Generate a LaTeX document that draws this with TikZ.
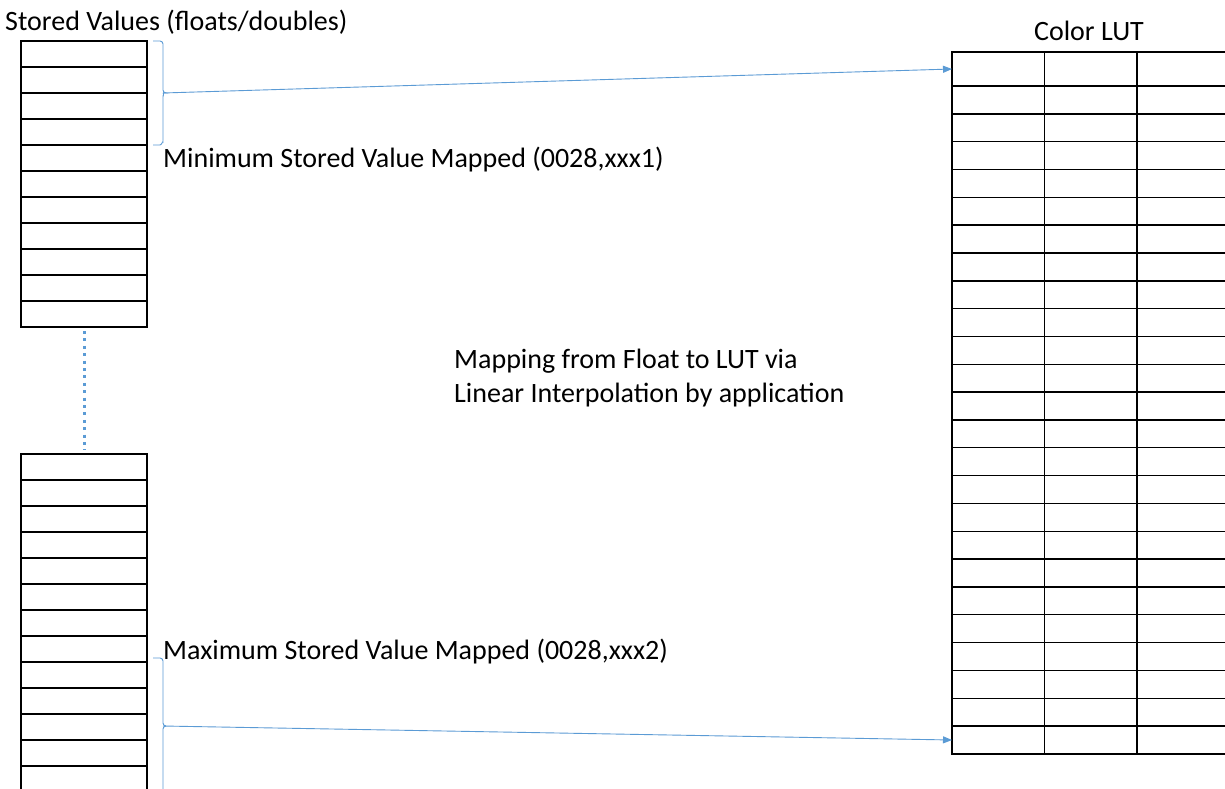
\documentclass[tikz,border=0pt]{standalone}
\usepackage{fontspec}
\setmainfont{Carlito}
\usetikzlibrary{arrows.meta,calc}
\definecolor{linkblue}{HTML}{5B9BD5}
\begin{document}
\begin{tikzpicture}[x=1pt,y=-1pt,
  cell/.style={draw=black,line width=1.4pt,minimum width=126pt,minimum height=26pt,inner sep=0pt,outer sep=0pt},
  lutcell/.style={draw=black,line width=1.4pt,minimum width=92.5pt,inner sep=0pt,outer sep=0pt},
  lbl/.style={inner sep=0pt,font=\fontsize{28}{34}\selectfont},
  brace/.style={draw=linkblue,line width=0.9pt},
  link/.style={draw=linkblue,line width=0.9pt,-{Triangle[length=9pt,width=7pt]}},
  dots/.style={draw=linkblue,line width=3pt,dash pattern=on 3pt off 4.4pt}]
\useasboundingbox (0,0) rectangle (1225,789);
\clip (0,0) rectangle (1225,789);
\fill[white] (0,0) rectangle (1225,789);
% top stack
\foreach \i in {0,...,10} \node[cell] (t\i) at (84,{54+26*\i}) {};
% bottom stack
\foreach \i in {0,...,13} \node[cell] (b\i) at (84,{467+26*\i}) {};
% LUT
\foreach \c in {0,1,2} {
  \node[lutcell,minimum height=34pt] (l0c\c) at ({998.25+92.5*\c},69) {};
  \foreach \r in {1,...,24}
    \node[lutcell,minimum height=27.83pt] (l\r c\c) at ({998.25+92.5*\c},{86+27.83*(\r-1)+13.915}) {};
}
% dotted continuation
\draw[dots] ($(t10.south)+(0,4)$) -- ($(b0.north)+(0,-4)$);
% braces
\coordinate (tb) at (163,93);
\draw[brace] (153,41) -- (160,41) to[out=0,in=90] (163,44) -- (163,90) to[out=270,in=180] (166,93) -- (163,93) (163,93) to[out=0,in=270] (163,96) -- (163,142) to[out=90,in=0] (160,145) -- (153,145);
\coordinate (bb) at (163,726);
\draw[brace] (153,658) -- (160,658) to[out=0,in=90] (163,661) -- (163,723) (163,729) -- (163,800);
\draw[brace] (163,723) to[out=270,in=180] (166,726) (163,729) to[out=90,in=180] (166,726);
% arrows
\draw[link] (tb) -- (l0c0.west);
\draw[link] (bb) -- (l24c0.west);
% labels
\node[lbl,anchor=west] (stored) at (5,22) {Stored Values (floats/doubles)};
\node[lbl] (luttitle) at (1089,31) {Color LUT};
\node[lbl,anchor=west] (minl) at (163,160) {Minimum Stored Value Mapped (0028,xxx1)};
\node[lbl,anchor=west] (maxl) at (163,652) {Maximum Stored Value Mapped (0028,xxx2)};
\node[lbl,anchor=west,align=left] (map) at (454,378) {Mapping from Float to LUT via\\Linear Interpolation by application};
\end{tikzpicture}
\end{document}
